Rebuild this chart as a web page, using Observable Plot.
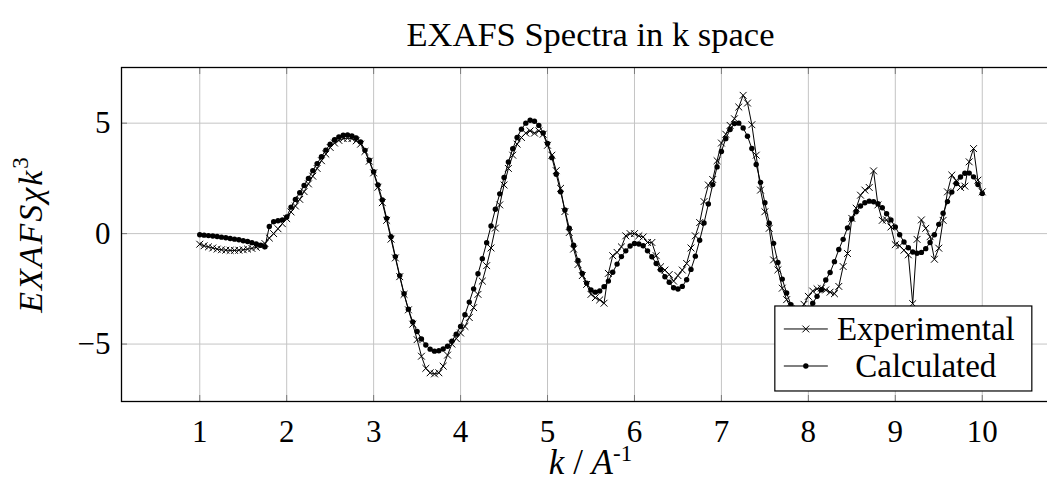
<!DOCTYPE html>
<html><head><meta charset="utf-8">
<script src="https://cdn.jsdelivr.net/npm/d3@7"></script>
<script src="https://cdn.jsdelivr.net/npm/@observablehq/plot@0.6"></script>
<style>html,body{margin:0;padding:0;background:#fff;overflow:hidden} svg{display:block}</style>
</head><body><div id="chart"></div><script>
const kValues = [1.00,1.05,1.10,1.15,1.20,1.25,1.30,1.35,1.40,1.45,1.50,1.55,1.60,1.65,1.70,1.75,1.80,1.85,1.90,1.95,
2.00,2.05,2.10,2.15,2.20,2.25,2.30,2.35,2.40,2.45,2.50,2.55,2.60,2.65,2.70,2.75,2.80,2.85,2.90,2.95,
3.00,3.05,3.10,3.15,3.20,3.25,3.30,3.35,3.40,3.45,3.50,3.55,3.60,3.65,3.70,3.75,3.80,3.85,3.90,3.95,
4.00,4.05,4.10,4.15,4.20,4.25,4.30,4.35,4.40,4.45,4.50,4.55,4.60,4.65,4.70,4.75,4.80,4.85,4.90,4.95,
5.00,5.05,5.10,5.15,5.20,5.25,5.30,5.35,5.40,5.45,5.50,5.55,5.60,5.65,5.70,5.75,5.80,5.85,5.90,5.95,
6.00,6.05,6.10,6.15,6.20,6.25,6.30,6.35,6.40,6.45,6.50,6.55,6.60,6.65,6.70,6.75,6.80,6.85,6.90,6.95,
7.00,7.05,7.10,7.15,7.20,7.25,7.30,7.35,7.40,7.45,7.50,7.55,7.60,7.65,7.70,7.75,7.80,7.85,7.90,7.95,
8.00,8.05,8.10,8.15,8.20,8.25,8.30,8.35,8.40,8.45,8.50,8.55,8.60,8.65,8.70,8.75,8.80,8.85,8.90,8.95,
9.00,9.05,9.10,9.15,9.20,9.25,9.30,9.35,9.40,9.45,9.50,9.55,9.60,9.65,9.70,9.75,9.80,9.85,9.90,9.95,
10.00];
const experimental = [-0.48,-0.55,-0.60,-0.65,-0.70,-0.73,-0.75,-0.76,-0.76,-0.75,-0.73,-0.70,-0.67,-0.62,-0.56,-0.45,-0.20,0.00,0.22,0.45,
0.68,0.98,1.25,1.55,1.90,2.25,2.60,2.95,3.30,3.60,3.90,4.10,4.22,4.30,4.32,4.30,4.20,4.05,3.72,3.28,
2.75,2.10,1.40,0.60,-0.25,-1.10,-1.95,-2.75,-3.45,-4.10,-4.80,-5.55,-6.10,-6.30,-6.35,-6.30,-6.00,-5.50,-5.00,-4.75,
-4.50,-4.20,-3.80,-3.35,-2.75,-2.15,-1.45,-0.65,0.25,1.30,2.20,2.95,3.55,4.05,4.35,4.55,4.65,4.55,4.65,4.50,
4.00,3.55,2.85,2.05,1.00,0.05,-0.70,-1.40,-1.90,-2.30,-2.75,-2.90,-3.00,-3.15,-1.80,-1.00,-0.85,-0.60,-0.10,0.00,
0.00,-0.10,-0.15,-0.40,-0.40,-1.00,-1.50,-1.65,-1.85,-2.15,-1.90,-1.65,-1.35,-0.65,-0.10,0.50,1.45,2.20,2.45,3.30,
4.10,4.50,4.90,5.20,5.73,6.26,5.91,4.93,3.55,1.97,0.99,0.24,-1.19,-1.64,-2.47,-2.99,-3.40,-3.60,-3.50,-3.20,
-2.84,-2.60,-2.50,-2.47,-2.55,-2.65,-2.72,-2.39,-1.49,-0.90,0.69,1.15,1.74,1.97,2.09,2.84,1.30,0.60,0.62,0.30,
-0.50,-0.55,-0.75,-0.96,-3.17,-0.26,0.62,0.24,-0.14,-1.16,-0.66,0.60,1.89,2.65,2.40,2.09,2.15,3.25,3.85,2.42,
1.89];
const calculated = [-0.05,-0.07,-0.09,-0.11,-0.13,-0.16,-0.19,-0.22,-0.25,-0.28,-0.32,-0.36,-0.41,-0.47,-0.53,-0.60,0.32,0.54,0.58,0.62,
0.75,1.20,1.55,1.85,2.18,2.50,2.85,3.17,3.48,3.78,4.05,4.25,4.38,4.45,4.47,4.42,4.33,4.15,3.77,3.32,
2.80,2.20,1.52,0.69,-0.14,-1.04,-1.90,-2.72,-3.42,-4.00,-4.43,-4.77,-5.04,-5.23,-5.32,-5.30,-5.22,-5.10,-4.87,-4.55,
-4.20,-3.67,-3.10,-2.50,-1.82,-1.14,-0.41,0.35,1.10,1.80,2.54,3.24,3.84,4.35,4.73,5.00,5.13,5.09,4.90,4.56,
4.08,3.44,2.69,1.89,1.07,0.24,-0.53,-1.22,-1.80,-2.24,-2.55,-2.65,-2.60,-2.40,-2.15,-1.75,-1.38,-1.04,-0.78,-0.56,
-0.45,-0.47,-0.55,-0.78,-1.05,-1.35,-1.64,-1.95,-2.20,-2.45,-2.51,-2.39,-2.09,-1.62,-1.02,-0.30,0.48,1.34,2.22,3.02,
3.72,4.30,4.71,4.98,5.00,4.78,4.41,3.85,3.13,2.32,1.40,0.47,-0.44,-1.31,-2.06,-2.69,-3.22,-3.55,-3.70,-3.65,
-3.45,-3.15,-2.84,-2.54,-2.10,-1.76,-1.27,-0.72,-0.26,0.26,0.66,0.99,1.25,1.40,1.47,1.44,1.35,1.17,0.90,0.62,
0.30,-0.05,-0.38,-0.64,-0.83,-0.89,-0.85,-0.68,-0.40,-0.05,0.42,0.92,1.45,1.88,2.27,2.56,2.73,2.74,2.57,2.22,
1.82];
const xTicks = [1,2,3,4,5,6,7,8,9,10];
const yTicks = [-5,0,5];
const seriesNames = ["Experimental","Calculated"];
const titleText = "EXAFS Spectra in k space";

const rows = kValues.map((k, i) => ({k, exp: experimental[i], calc: calculated[i]}));
const FONT = "Liberation Serif, DejaVu Serif, Times New Roman, serif";
const W = 1047, H = 483, ML = 121, MR = -13, MT = 67, MB = 82;

const svg = Plot.plot({
  width: W, height: H,
  marginLeft: ML, marginRight: MR, marginTop: MT, marginBottom: MB,
  style: {fontFamily: FONT, fontSize: "31px", background: "#fff", color: "#000", overflow: "hidden", maxWidth: "none"},
  x: {domain: [0.1, 10.9]},
  y: {domain: [-7.6, 7.52]},
  marks: [
    Plot.gridX(xTicks, {stroke: "#c4c4c4", strokeOpacity: 1, strokeWidth: 1}),
    Plot.gridY(yTicks, {stroke: "#c4c4c4", strokeOpacity: 1, strokeWidth: 1}),
    Plot.axisX(xTicks, {anchor: "bottom", tickSize: -6, tickPadding: 24, stroke: "#7a7a7a", fill: "#000", label: null, fontSize: 31, fontFamily: FONT}),
    Plot.axisX(xTicks, {anchor: "top", tickSize: -6, tickFormat: () => "", stroke: "#7a7a7a", label: null}),
    Plot.axisY(yTicks, {anchor: "left", tickSize: -6, tickPadding: 17, stroke: "#7a7a7a", fill: "#000", label: null, fontSize: 31, fontFamily: FONT}),
    Plot.line(rows, {x: "k", y: "exp", stroke: "#000", strokeWidth: 1}),
    Plot.dot(rows, {x: "k", y: "exp", symbol: "times", r: 3.2, stroke: "#000", strokeWidth: 1}),
    Plot.line(rows, {x: "k", y: "calc", stroke: "#000", strokeWidth: 1}),
    Plot.dot(rows, {x: "k", y: "calc", r: 2.7, fill: "#000", stroke: "none"}),
    Plot.frame({stroke: "#000", strokeWidth: 1.3})
  ]
});

const s = d3.select(svg);
const axW = W - ML - MR;
const cx = ML + axW / 2;
s.append("text").attr("x", cx).attr("y", 46).attr("text-anchor", "middle")
  .style("font-family", FONT).attr("font-size", 34.5).attr("fill", "#000").text(titleText);
const xl = s.append("text").attr("x", cx).attr("y", 474).attr("text-anchor", "middle")
  .style("font-family", FONT).attr("font-size", 35).attr("fill", "#000");
xl.append("tspan").attr("font-style", "italic").text("k");
xl.append("tspan").text(" / ");
xl.append("tspan").attr("font-style", "italic").text("A");
xl.append("tspan").attr("font-size", 23).attr("dy", -13).text("-1");
const yl = s.append("text").attr("transform", `translate(42,${(MT + H - MB) / 2}) rotate(-90)`)
  .attr("text-anchor", "middle").style("font-family", FONT).attr("font-size", 34)
  .attr("font-style", "italic").attr("letter-spacing", 2).attr("fill", "#000");
yl.append("tspan").text("EXAFSχk");
yl.append("tspan").attr("font-size", 23).attr("font-style", "normal").attr("dy", -14).text("3");

const lgRight = ML + 0.97 * axW, lgBottom = (H - MB) - 0.03 * (H - MB - MT);
const lgW = 257, lgH = 85;
const lgX = lgRight - lgW, lgY = lgBottom - lgH;
const g = s.append("g");
g.append("rect").attr("x", lgX).attr("y", lgY).attr("width", lgW).attr("height", lgH)
  .attr("fill", "#fff").attr("stroke", "#000").attr("stroke-width", 1.2);
const rowY = [lgY + 23, lgY + 60];
seriesNames.forEach((name, i) => {
  const y = rowY[i];
  g.append("line").attr("x1", lgX + 9).attr("x2", lgX + 53).attr("y1", y).attr("y2", y)
    .attr("stroke", i === 0 ? "#000" : "#555").attr("stroke-width", i === 0 ? 1 : 1.3);
  if (i === 0) {
    g.append("path").attr("transform", `translate(${lgX + 31},${y})`)
      .attr("d", d3.symbol(d3.symbolTimes, Math.PI * 3.2 * 3.2)()).attr("stroke", "#000").attr("fill", "none");
  } else {
    g.append("circle").attr("cx", lgX + 31).attr("cy", y).attr("r", 2.7).attr("fill", "#000");
  }
  g.append("text").attr("x", lgX + 151).attr("y", y + 11).attr("text-anchor", "middle")
    .style("font-family", FONT).attr("font-size", 33).attr("fill", "#000").text(name);
});

document.getElementById("chart").appendChild(svg);
</script></body></html>
